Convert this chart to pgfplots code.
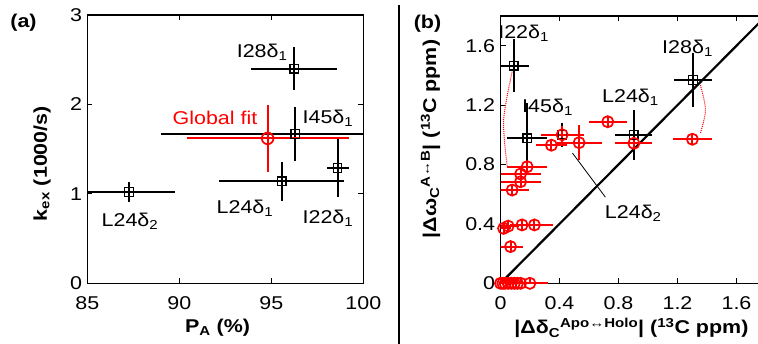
\documentclass[border=0pt]{standalone}
\usepackage{fontspec}
\setmainfont[FakeStretch=1.16]{Liberation Sans}
\usepackage{pgfplots}
\pgfplotsset{compat=1.18}
\usepackage{pgfplotstable}

\pgfplotstableread{
x y ex ey
87.27 1.02 2.5 0.11
95.56 1.14 3.4 0.22
98.6 1.29 0.6 0.33
96.3 1.67 7.3 0.30
96.25 2.40 2.33 0.24
}\leftblack
\pgfplotstableread{
x y ex ey
94.8 1.62 4.4 0.37
}\leftred
\pgfplotstableread{
x y ex ey
0.418 1.00 0.05 0.08
0.090 1.465 0.105 0.18
0.181 0.976 0.136 0.24
0.904 0.999 0.125 0.17
1.306 1.369 0.13 0.185
}\rightblack
\pgfplotstableread{
x y ex ey
0.418 1.00 0.146 0.06
0.345 0.93 0.105 0.035
0.533 0.947 0.152 0.12
0.727 1.088 0.13 0.035
0.904 0.943 0.125 0.035
1.301 0.97 0.13 0.035
0.181 0.785 0.136 0.035
0.136 0.736 0.136 0.035
0.136 0.684 0.136 0.035
0.079 0.628 0.115 0.035
0.021 0.37 0.052 0.035
0.052 0.385 0.073 0.035
0.146 0.393 0.084 0.035
0.23 0.393 0.125 0.035
0.068 0.247 0.084 0.035
0.0 0 0.03 0.035
0.016 0 0.04 0.035
0.031 0 0.04 0.035
0.052 0 0.05 0.035
0.073 0 0.05 0.035
0.094 0 0.05 0.035
0.115 0 0.05 0.035
0.136 0 0.05 0.035
0.199 0 0.125 0.035
}\rightred

\pgfplotsset{
  mystyle/.style={scale only axis, axis line style={line width=1.5bp},
    tick align=inside, major tick length=5bp, tick style={line width=1bp, black},
    /pgf/number format/assume math mode=true,
    xticklabel style={yshift=-7bp}, yticklabel style={xshift=1bp}},
  errb/.style={only marks, error bars/.cd, x dir=both, x explicit, y dir=both, y explicit,
    error mark=none, error bar style={line width=2bp}},
}

\begin{document}
\fontsize{18.5bp}{22bp}\selectfont
\begin{tikzpicture}
\begin{axis}[mystyle, at={(87.3bp,60.7bp)}, anchor=south west,
  width=276bp, height=268.3bp,
  xmin=85, xmax=100, ymin=0, ymax=3,
  xtick={85,90,95,100}, ytick={0,1,2,3},
  xlabel={\textbf{P\textsubscript{A} (\%)}},
  ylabel={\textbf{k\textsubscript{ex} (1000/s)}},
  xlabel style={at={(axis description cs:0.472,-0.167)}, anchor=center},
  ylabel style={at={(axis description cs:-0.164,0.446)}, anchor=center},
]
\addplot[black, mark=square, mark size=4.3bp, mark options={line width=1.3bp, solid}, errb]
  table[x=x, y=y, x error=ex, y error=ey]{\leftblack};
\addplot[red, mark=o, mark size=5.8bp, mark options={line width=1.7bp, solid}, errb]
  table[x=x, y=y, x error=ex, y error=ey]{\leftred};
\node at (axis cs:94.5,2.58) {I28δ\textsubscript{1}};
\node[red] at (axis cs:91.94,1.85) {Global fit};
\node at (axis cs:98.08,1.85) {I45δ\textsubscript{1}};
\node at (axis cs:93.57,0.84) {L24δ\textsubscript{1}};
\node at (axis cs:98.08,0.73) {I22δ\textsubscript{1}};
\node at (axis cs:87.32,0.69) {L24δ\textsubscript{2}};
\end{axis}

\begin{axis}[mystyle, at={(500.5bp,60.7bp)}, anchor=south west,
  width=265.5bp, height=267.3bp,
  xmin=0, xmax=1.8, ymin=0, ymax=1.8,
  xtick={0,0.4,0.8,1.2,1.6}, ytick={0,0.4,0.8,1.2,1.6},
  xticklabels={0,0.4,0.8,1.2,1.6}, yticklabels={0,0.4,0.8,1.2,1.6},
  xlabel={\textbf{|Δδ\textsubscript{C}\textsuperscript{Apo↔Holo}| (\textsuperscript{13}C ppm)}},
  ylabel={\textbf{|Δω\textsubscript{C}\textsuperscript{A↔B}| (\textsuperscript{13}C ppm)}},
  xlabel style={at={(axis description cs:0.493,-0.168)}, anchor=center},
  ylabel style={at={(axis description cs:-0.264,0.54)}, anchor=center},
]
\addplot[black, line width=2.2bp] coordinates {(0,0) (1.8,1.8)};
\addplot[black, mark=square, mark size=4.3bp, mark options={line width=1.3bp, solid}, errb]
  table[x=x, y=y, x error=ex, y error=ey]{\rightblack};
\addplot[red, mark=o, mark size=5.6bp, mark options={line width=1.7bp, solid}, errb]
  table[x=x, y=y, x error=ex, y error=ey]{\rightred};
\addplot[red, densely dotted, line width=1bp, smooth] coordinates {(0.079,1.425) (0.021,1.10) (0.045,0.79)};
\addplot[red, densely dotted, line width=1bp, smooth] coordinates {(1.355,1.335) (1.39,1.167) (1.355,1.01)};
\draw[black, line width=0.8bp] (axis cs:0.711,0.58) -- (axis cs:0.488,0.877);
\node at (axis cs:0.157,1.686) {I22δ\textsubscript{1}};
\node at (axis cs:0.319,1.187) {I45δ\textsubscript{1}};
\node at (axis cs:0.881,1.254) {L24δ\textsubscript{1}};
\node at (axis cs:1.268,1.585) {I28δ\textsubscript{1}};
\node at (axis cs:0.90,0.473) {L24δ\textsubscript{2}};
\end{axis}

\draw[line width=1.2bp] (399bp,0) -- (399bp,339bp);
\node[font=\bfseries] at (23.5bp,321bp) {(a)};
\node[font=\bfseries] at (427.5bp,320bp) {(b)};
\pgfresetboundingbox
\useasboundingbox (0,0) rectangle (758bp,344bp);
\end{tikzpicture}
\end{document}
